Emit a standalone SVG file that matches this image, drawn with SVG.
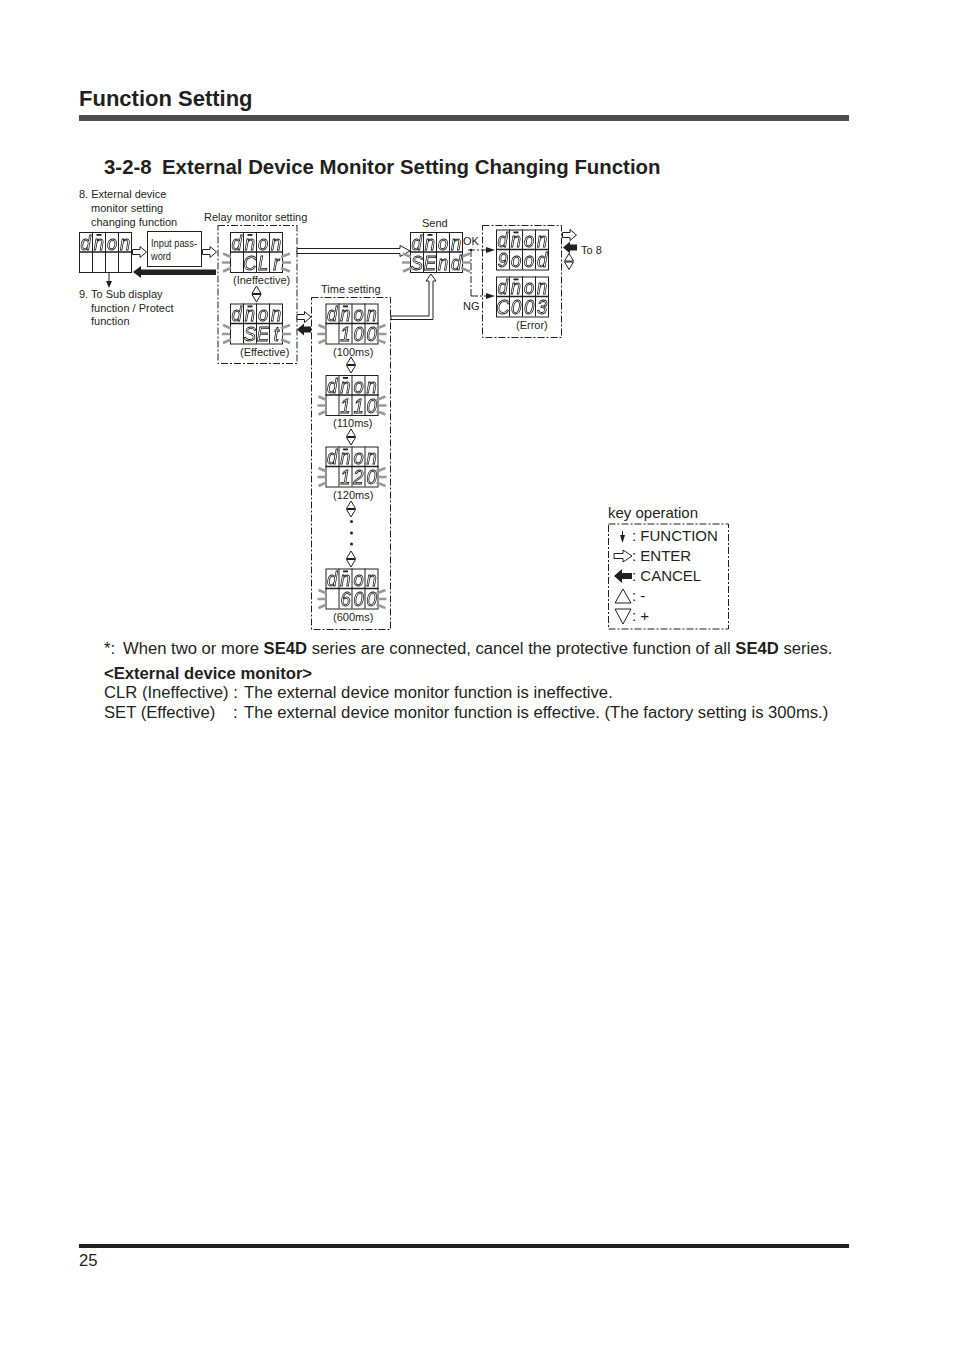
<svg xmlns="http://www.w3.org/2000/svg" width="954" height="1348" viewBox="0 0 954 1348">
<style>
text{font-family:"Liberation Sans",Arial,sans-serif;fill:#231f20}
.h1{font-size:22px;font-weight:700}
.h2{font-size:20.4px;font-weight:700}
.b{font-size:16.65px}
.s{font-size:11px}
.k{font-size:15px}
text.seg{font-size:20px;font-style:italic;fill:none;stroke:#111;stroke-width:.8px;text-anchor:middle;transform-box:fill-box;transform-origin:center;transform:scaleX(.92);filter:grayscale(1)}
.dash{fill:none;stroke:#231f20;stroke-width:1;stroke-dasharray:7 2 2 2}
.line{fill:none;stroke:#231f20;stroke-width:1}
.open{fill:#fff;stroke:#231f20;stroke-width:1}
.solid{fill:#231f20;stroke:none}
.ray{stroke:#999;stroke-width:2.6;fill:none}
.conn{fill:none;stroke:#231f20;stroke-width:1}
</style>
<defs>
<g id="frame">
<rect x=".5" y=".5" width="52" height="40" class="line"/>
<path d="M13.500 0V40M26.500 0V40M39.500 0V40" class="line"/>
<path d="M0 20H53" stroke="#231f20" stroke-width="1.600"/>
<rect x="17.500" y="2" width="5" height="1.800" class="solid"/>
</g>
<g id="rays">
<path d="M-7 21.500L1 25M-8 30.500H0M-7 39.500L1 36M60 21.500L51 25M61 30.500H52M60 39.500L51 36" class="ray"/>
</g>
<path id="openR" d="M0 -2.500H7.500V-5.500L14 0L7.500 5.500V2.500H0Z" class="open"/>
<path id="solidL" d="M0 0L7 -6V-3H14V3H7V6Z" class="solid"/>
<g id="updown">
<path d="M0 -8L-4.500 -.5H4.500Z" class="open"/>
<path d="M0 8L-4.500 .5H4.500Z" class="open"/>
</g>
</defs>

<g id="page">
<text x="79" y="106" class="h1">Function Setting</text>
<rect x="79" y="115" width="770" height="6" fill="#4d4d4f"/>
<text x="104" y="174" class="h2">3-2-8</text>
<text x="162" y="174" class="h2">External Device Monitor Setting Changing Function</text>
<rect x="79" y="1244" width="770" height="4" fill="#231f20"/>
<text x="79" y="1266" class="b">25</text>
</g>

<g id="labels">
<text x="79" y="198" class="s">8. External device</text>
<text x="91" y="212" class="s">monitor setting</text>
<text x="91" y="226" class="s">changing function</text>
<text x="79" y="298" class="s">9. To Sub display</text>
<text x="91" y="312" class="s">function / Protect</text>
<text x="91" y="325" class="s">function</text>
<text x="204" y="221" class="s">Relay monitor setting</text>
<text x="233" y="284" class="s">(Ineffective)</text>
<text x="240" y="356" class="s">(Effective)</text>
<text x="321" y="293" class="s">Time setting</text>
<text x="333" y="356" class="s">(100ms)</text>
<text x="333" y="427" class="s">(110ms)</text>
<text x="333" y="499" class="s">(120ms)</text>
<text x="333" y="621" class="s">(600ms)</text>
<text x="422" y="227" class="s">Send</text>
<text x="463" y="245" class="s">OK</text>
<text x="463" y="310" class="s">NG</text>
<text x="516" y="329" class="s">(Error)</text>
<text x="581" y="254" class="s">To 8</text>
</g>

<g id="containers">
<rect x="218" y="225.500" width="79" height="138" class="dash"/>
<rect x="311.500" y="297.500" width="79" height="332" class="dash"/>
<rect x="482.500" y="225.500" width="79" height="112" class="dash"/>
</g>

<g id="connectors">
<use href="#openR" transform="translate(132.500 252)"/>
<use href="#openR" transform="translate(202.500 252)"/>
<path d="M133 272L141 266V269.500H216V275H141V278Z" class="solid"/>
<path d="M109 272V283" class="conn"/><path d="M109 288L106 281H112Z" class="solid"/>
<use href="#updown" transform="translate(256.500 294)"/>
<use href="#updown" transform="translate(351 365)"/>
<use href="#updown" transform="translate(351 437)"/>
<use href="#updown" transform="translate(351 509)"/>
<use href="#updown" transform="translate(351 559)"/>
<use href="#updown" transform="translate(569 261.500)"/>
<use href="#openR" transform="translate(297 317)"/>
<use href="#solidL" transform="translate(297 329.500)"/>
<use href="#openR" transform="translate(562.500 235)"/>
<use href="#solidL" transform="translate(563 247.500)"/>
<path d="M297 248.500H400V245.500L410 251L400 256.500V253.500H297Z" fill="#fff" stroke="#231f20"/>
<path d="M391 316H429V281H426L431 274L436 281H433V319.500H391Z" fill="#fff" stroke="#231f20"/>
<path d="M471 250V296" class="dash"/>
<path d="M468 250H487" class="dash"/><path d="M471 296H487" class="dash"/>
<circle cx="471" cy="250" r="1.200" class="solid"/>
<path d="M495 250L486 247V253Z" class="solid"/>
<path d="M495 296L486 293V299Z" class="solid"/>
<circle cx="351.500" cy="521.500" r="1.500" class="solid"/>
<circle cx="351.500" cy="533" r="1.500" class="solid"/>
<circle cx="351.500" cy="544" r="1.500" class="solid"/>
</g>

<g id="n-dnon-start" transform="translate(79 232)">
<use href="#frame"/>
<text class="seg" x="6.500" y="18">d</text><text class="seg" x="19.800" y="18">n</text><text class="seg" x="33" y="18">o</text><text class="seg" x="46.200" y="18">n</text>
</g>
<g id="n-password">
<rect x="147.500" y="231.500" width="54" height="35" class="line"/>
<text x="151" y="247" font-size="10" textLength="46" lengthAdjust="spacingAndGlyphs">Input pass-</text>
<text x="151" y="260" font-size="10" textLength="20" lengthAdjust="spacingAndGlyphs">word</text>
</g>
<g id="n-clr" transform="translate(230 232)">
<use href="#frame"/><use href="#rays"/>
<text class="seg" x="6.500" y="18">d</text><text class="seg" x="19.800" y="18">n</text><text class="seg" x="33" y="18">o</text><text class="seg" x="46.200" y="18">n</text>
<text class="seg" x="20" y="38">C</text><text class="seg" x="33" y="38">L</text><text class="seg" x="46.200" y="38">r</text>
</g>
<g id="n-set" transform="translate(230 303.500)">
<use href="#frame"/><use href="#rays"/>
<text class="seg" x="6.500" y="18">d</text><text class="seg" x="19.800" y="18">n</text><text class="seg" x="33" y="18">o</text><text class="seg" x="46.200" y="18">n</text>
<text class="seg" x="20" y="38">S</text><text class="seg" x="33" y="38">E</text><text class="seg" x="46.200" y="38">t</text>
</g>
<g id="n-send" transform="translate(410 232)">
<use href="#frame"/><use href="#rays"/>
<text class="seg" x="6.500" y="18">d</text><text class="seg" x="19.800" y="18">n</text><text class="seg" x="33" y="18">o</text><text class="seg" x="46.200" y="18">n</text>
<text class="seg" x="6.800" y="38">S</text><text class="seg" x="20" y="38">E</text><text class="seg" x="33" y="38">n</text><text class="seg" x="46.200" y="38">d</text>
</g>
<g id="n-good" transform="translate(496 229.500)">
<use href="#frame"/>
<text class="seg" x="6.500" y="18">d</text><text class="seg" x="19.800" y="18">n</text><text class="seg" x="33" y="18">o</text><text class="seg" x="46.200" y="18">n</text>
<text class="seg" x="6.800" y="38">9</text><text class="seg" x="20" y="38">o</text><text class="seg" x="33" y="38">o</text><text class="seg" x="46.200" y="38">d</text>
</g>
<g id="n-error" transform="translate(496 276.500)">
<use href="#frame"/>
<text class="seg" x="6.500" y="18">d</text><text class="seg" x="19.800" y="18">n</text><text class="seg" x="33" y="18">o</text><text class="seg" x="46.200" y="18">n</text>
<text class="seg" x="6.800" y="38">C</text><text class="seg" x="20" y="38">0</text><text class="seg" x="33" y="38">0</text><text class="seg" x="46.200" y="38">3</text>
</g>
<g id="n-100" transform="translate(325.500 303.500)">
<use href="#frame"/><use href="#rays"/>
<text class="seg" x="6.500" y="18">d</text><text class="seg" x="19.800" y="18">n</text><text class="seg" x="33" y="18">o</text><text class="seg" x="46.200" y="18">n</text>
<text class="seg" x="20" y="38">1</text><text class="seg" x="33" y="38">0</text><text class="seg" x="46.200" y="38">0</text>
</g>
<g id="n-110" transform="translate(325.500 375)">
<use href="#frame"/><use href="#rays"/>
<text class="seg" x="6.500" y="18">d</text><text class="seg" x="19.800" y="18">n</text><text class="seg" x="33" y="18">o</text><text class="seg" x="46.200" y="18">n</text>
<text class="seg" x="20" y="38">1</text><text class="seg" x="33" y="38">1</text><text class="seg" x="46.200" y="38">0</text>
</g>
<g id="n-120" transform="translate(325.500 446.500)">
<use href="#frame"/><use href="#rays"/>
<text class="seg" x="6.500" y="18">d</text><text class="seg" x="19.800" y="18">n</text><text class="seg" x="33" y="18">o</text><text class="seg" x="46.200" y="18">n</text>
<text class="seg" x="20" y="38">1</text><text class="seg" x="33" y="38">2</text><text class="seg" x="46.200" y="38">0</text>
</g>
<g id="n-600" transform="translate(325.500 568.500)">
<use href="#frame"/><use href="#rays"/>
<text class="seg" x="6.500" y="18">d</text><text class="seg" x="19.800" y="18">n</text><text class="seg" x="33" y="18">o</text><text class="seg" x="46.200" y="18">n</text>
<text class="seg" x="20" y="38">6</text><text class="seg" x="33" y="38">0</text><text class="seg" x="46.200" y="38">0</text>
</g>

<g id="n-key">
<text x="608" y="518" class="k">key operation</text>
<rect x="608.500" y="524" width="120" height="105" class="dash"/>
<path d="M622.500 531V539" class="conn"/><path d="M622.500 543L620 535H625Z" class="solid"/>
<text x="632" y="541" class="k">: FUNCTION</text>
<path d="M614 553.500H623V550L632 556L623 562V558.500H614Z" class="open"/>
<text x="632" y="561" class="k">: ENTER</text>
<path d="M614 576L622 569V573H632V579H622V583Z" class="solid"/>
<text x="632" y="581" class="k">: CANCEL</text>
<path d="M623 589L631 603H615Z" class="open"/>
<text x="632" y="601" class="k">: -</text>
<path d="M615 609H631L623 624Z" class="open"/>
<text x="632" y="621" class="k">: +</text>
</g>

<g id="notes">
<text x="104" y="654" class="b">*:</text>
<text x="123" y="654" class="b">When two or more <tspan font-weight="700">SE4D</tspan> series are connected, cancel the protective function of all <tspan font-weight="700">SE4D</tspan> series.</text>
<text x="104" y="679" class="b" font-weight="700">&lt;External device monitor&gt;</text>
<text x="104" y="698" class="b">CLR (Ineffective) :</text>
<text x="244" y="698" class="b">The external device monitor function is ineffective.</text>
<text x="104" y="718" class="b">SET (Effective)</text>
<text x="233" y="718" class="b">:</text>
<text x="244" y="718" class="b">The external device monitor function is effective. (The factory setting is 300ms.)</text>
</g>
</svg>
